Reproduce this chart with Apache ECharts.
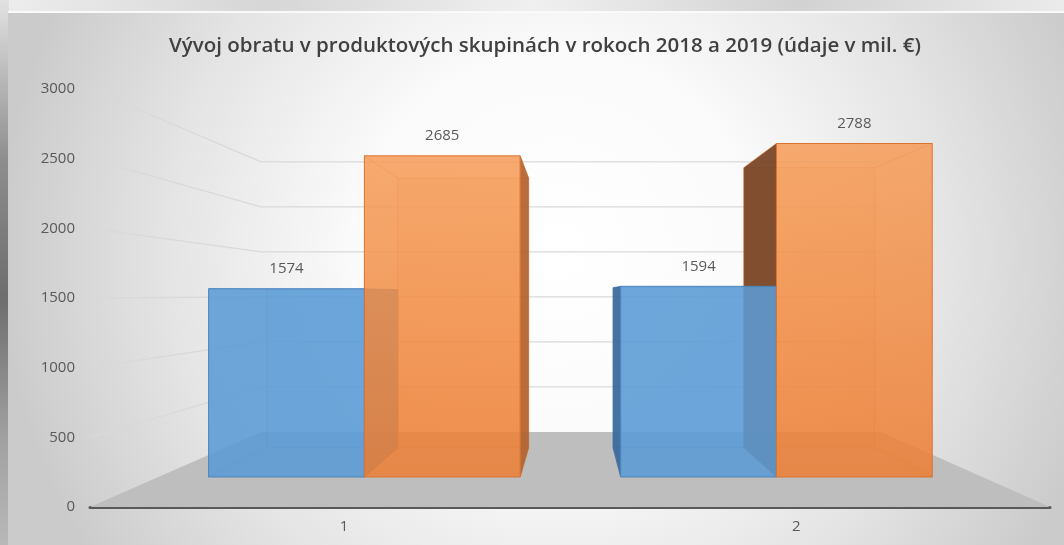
<!DOCTYPE html>
<html>
<head>
<meta charset="utf-8">
<title>Vývoj obratu</title>
<script src="https://cdn.jsdelivr.net/npm/echarts@6/dist/echarts.min.js"></script>
<style>
  html, body { margin: 0; padding: 0; background: #e4e4e4; }
  #chart { width: 1064px; height: 545px; }
</style>
</head>
<body>
<div id="chart"></div>
<script>
const categories = ['1', '2']
const values2018 = [1574, 1594]
const values2019 = [2685, 2788]
const yTicks = [0, 500, 1000, 1500, 2000, 2500, 3000]

// perspektíva: úbežník a hĺbky (0 = rovina osí)
const VX = 573, VY = 295
const S_WALL = 0.354, S_FRONT = 0.1415, S_BACK = 0.279, S_LABEL = 0.058
const BAR_FRAC = 0.378
const FONT = 'Open Sans'

function proj(p, s) {
  return [p[0] + s * (VX - p[0]), p[1] + s * (VY - p[1])]
}

const blueLook = {
  side: 'left',
  front: 'rgba(91,155,213,0.88)',
  back: 'rgba(91,155,213,0.12)',
  edge: '#4a84bd',
  edgeSoft: 'rgba(60,110,170,0.45)',
  leftFace: 'rgba(55,104,156,0.92)',
  rightFace: 'rgba(74,128,184,0.92)'
}
const orangeLook = {
  side: 'right',
  front: new echarts.graphic.LinearGradient(0, 0, 0, 1, [
    { offset: 0, color: 'rgba(246,156,88,0.86)' },
    { offset: 1, color: 'rgba(236,126,52,0.86)' }
  ]),
  back: 'rgba(237,125,49,0.12)',
  edge: '#d9732e',
  edgeSoft: 'rgba(200,100,40,0.45)',
  leftFace: 'rgba(122,70,38,0.95)',
  rightFace: 'rgba(178,98,44,0.92)'
}

function barRender(look) {
  return function (params, api) {
    const ci = api.value(0)
    const v = api.value(1)
    const top = api.coord([ci, v])
    const base = api.coord([ci, 0])
    const bw = api.size([1, 0])[0] * BAR_FRAC
    const x0 = look.side === 'left' ? top[0] - bw : top[0]
    const x1 = x0 + bw
    const pts = [[x0, top[1]], [x1, top[1]], [x1, base[1]], [x0, base[1]]]
    const f = pts.map(p => proj(p, S_FRONT))
    const b = pts.map(p => proj(p, S_BACK))
    const children = []
    // zadné (skryté) hrany
    children.push({ type: 'polygon', z2: 10, shape: { points: b }, style: { fill: look.back, stroke: look.edgeSoft, lineWidth: 1 } })
    for (let k = 0; k < 4; k++) {
      children.push({ type: 'line', z2: 10, shape: { x1: f[k][0], y1: f[k][1], x2: b[k][0], y2: b[k][1] }, style: { stroke: look.edgeSoft, lineWidth: 1 } })
    }
    // viditeľné bočné steny
    if (f[1][0] < VX) {
      children.push({ type: 'polygon', z2: 20, shape: { points: [f[1], b[1], b[2], f[2]] }, style: { fill: look.rightFace, stroke: look.edgeSoft, lineWidth: 1 } })
    }
    if (f[0][0] > VX) {
      children.push({ type: 'polygon', z2: 20, shape: { points: [f[0], b[0], b[3], f[3]] }, style: { fill: look.leftFace, stroke: look.edgeSoft, lineWidth: 1 } })
    }
    if (f[0][1] > VY) {
      children.push({ type: 'polygon', z2: 20, shape: { points: [f[0], f[1], b[1], b[0]] }, style: { fill: look.rightFace } })
    }
    // predná stena
    children.push({ type: 'polygon', z2: 30, shape: { points: f }, style: { fill: look.front, stroke: look.edge, lineWidth: 1 } })
    children.push({
      type: 'text', z2: 40,
      style: {
        text: String(v), x: (f[0][0] + f[1][0]) / 2, y: f[0][1] - 20,
        align: 'center', verticalAlign: 'middle',
        fontFamily: FONT, fontSize: 15, fill: '#595959'
      }
    })
    return { type: 'group', children }
  }
}

const chart = echarts.init(document.getElementById('chart'))
chart.setOption({
  animation: false,
  graphic: [
    {
      type: 'rect', z: -10, silent: true,
      shape: { x: 0, y: 0, width: 1064, height: 14 },
      style: {
        fill: new echarts.graphic.LinearGradient(0, 0, 1, 0, [
          { offset: 0, color: '#ededed' }, { offset: 0.25, color: '#d6d6d6' },
          { offset: 0.5, color: '#f0f0f0' }, { offset: 0.75, color: '#d2d2d2' },
          { offset: 1, color: '#ebebeb' }
        ])
      }
    },
    {
      type: 'rect', z: -10, silent: true,
      shape: { x: 0, y: 0, width: 9, height: 545 },
      style: {
        fill: new echarts.graphic.LinearGradient(0, 0, 0, 1, [
          { offset: 0, color: '#e2e2e2' }, { offset: 0.3, color: '#8c8c8c' },
          { offset: 0.55, color: '#6e6e6e' }, { offset: 0.8, color: '#a0a0a0' },
          { offset: 1, color: '#b8b8b8' }
        ])
      }
    },
    {
      type: 'rect', z: -9, silent: true,
      shape: { x: 8, y: 12, width: 1056, height: 533 },
      style: {
        fill: new echarts.graphic.RadialGradient(0.52, 0.45, 1.05, [
          { offset: 0, color: '#ffffff' }, { offset: 0.35, color: '#fbfbfb' },
          { offset: 0.7, color: '#e4e4e4' }, { offset: 1, color: '#cbcbcb' }
        ])
      }
    },
    {
      type: 'rect', z: -8, silent: true,
      shape: { x: 8, y: 11, width: 1056, height: 2 },
      style: { fill: '#fafafa' }
    }
  ],
  title: {
    text: 'Vývoj obratu v produktových skupinách v rokoch 2018 a 2019 (údaje v mil. €)',
    left: 540,
    top: 31,
    textAlign: 'center',
    textStyle: { fontFamily: FONT, fontSize: 20.5, fontWeight: 600, color: '#404040' }
  },
  grid: { left: 90, right: 14, top: 89, bottom: 38 },
  xAxis: {
    type: 'category',
    data: categories,
    axisLine: { lineStyle: { color: '#595959', width: 3 } },
    axisTick: { show: false },
    axisLabel: { show: false }
  },
  yAxis: {
    type: 'value',
    min: 0,
    max: 3000,
    interval: 500,
    axisLine: { show: false },
    axisTick: { show: false },
    splitLine: { show: false },
    axisLabel: { fontFamily: FONT, fontSize: 15, color: '#595959', margin: 15, formatter: v => String(v) }
  },
  series: [
    {
      // podlaha a steny s mriežkou
      type: 'custom',
      name: 'steny',
      z: 1,
      clip: false,
      silent: true,
      data: yTicks.map(v => [0, v]),
      renderItem: function (params, api) {
        const v = api.value(1)
        const cs = params.coordSys
        const y = api.coord([0, v])[1]
        const fl = [cs.x, y], fr = [cs.x + cs.width, y]
        const bl = proj(fl, S_WALL), br = proj(fr, S_WALL)
        if (v === 0) {
          return { type: 'polygon', shape: { points: [fl, fr, br, bl] }, style: { fill: '#bebebe' } }
        }
        return { type: 'polyline', shape: { points: [fl, bl, br] }, style: { stroke: '#d9d9d9', lineWidth: 1.3, fill: null } }
      }
    },
    {
      type: 'custom',
      name: 'popisky',
      z: 1,
      clip: false,
      silent: true,
      data: categories.map((c, i) => [i, 0]),
      renderItem: function (params, api) {
        const p = api.coord([api.value(0), 0])
        return {
          type: 'text',
          style: {
            text: categories[params.dataIndex], x: p[0] + S_LABEL * (VX - p[0]), y: p[1] + 20,
            align: 'center', verticalAlign: 'middle', fontFamily: FONT, fontSize: 15, fill: '#595959'
          }
        }
      }
    },
    {
      type: 'custom',
      name: '2018',
      z: 2,
      clip: false,
      data: values2018.map((v, i) => [i, v]),
      renderItem: barRender(blueLook)
    },
    {
      type: 'custom',
      name: '2019',
      z: 2,
      clip: false,
      data: values2019.map((v, i) => [i, v]),
      renderItem: barRender(orangeLook)
    }
  ]
})
</script>
</body>
</html>
